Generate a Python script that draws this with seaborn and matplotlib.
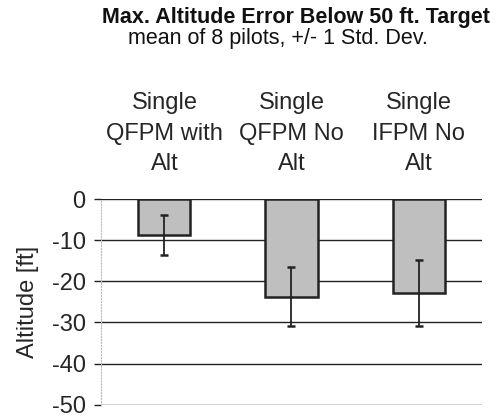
import matplotlib
matplotlib.use("Agg")
import matplotlib.pyplot as plt
import seaborn as sns
import pandas as pd

categories = ["Single\nQFPM with\nAlt", "Single\nQFPM No\nAlt", "Single\nIFPM No\nAlt"]
means = [-8.8, -23.7, -22.9]
std_devs = [4.8, 7.1, 8.0]
y_ticks = [0, -10, -20, -30, -40, -50]

sns.set_theme(style="white")
plt.rcParams['font.family'] = ['Liberation Sans', 'DejaVu Sans']

df = pd.DataFrame({"condition": categories, "altitude": means})

fig = plt.figure(figsize=(4.97, 4.19), dpi=100)
ax = fig.add_axes([0.203, 0.034, 0.767, 0.491])

sns.barplot(data=df, x="condition", y="altitude", ax=ax, color="#bfbfbf",
            edgecolor="#222222", linewidth=1.8, width=0.41, errorbar=None,
            saturation=1, zorder=3)
ax.errorbar(range(len(means)), means, yerr=std_devs, fmt="none",
            ecolor="#222222", elinewidth=1.3, capsize=3, capthick=1.8, zorder=4)

ax.set_xlim(-0.5, len(categories) - 0.5)
ax.set_ylim(-50, 0)
ax.set_yticks(y_ticks)
ax.set_yticklabels([str(v) for v in y_ticks])
ax.yaxis.grid(True, color="#222222", linewidth=1.0, zorder=0)
ax.set_axisbelow(True)
ax.xaxis.tick_top()
ax.tick_params(axis="x", length=0, labelsize=17, pad=17)
ax.tick_params(axis="y", length=5, width=1.0, color="#222222", labelsize=17, pad=6, left=True)
for lbl in ax.get_xticklabels():
    lbl.set_linespacing(1.5)
ax.set_xlabel("")
ax.set_ylabel("Altitude [ft]", fontsize=17)
ax.yaxis.set_label_coords(-0.162, 0.5)

for s in ["top", "right", "bottom"]:
    ax.spines[s].set_visible(False)
ax.spines["left"].set_color("#bbbbbb")
ax.spines["left"].set_linestyle(":")
ax.spines["left"].set_linewidth(0.8)

fig.text(0.595, 0.958, "Max. Altitude Error Below 50 ft. Target", ha="center",
         va="center", fontsize=15.5, fontweight="bold", color="#111111")
fig.text(0.56, 0.907, "mean of 8 pilots, +/- 1 Std. Dev.", ha="center",
         va="center", fontsize=15.5, color="#111111")

fig.savefig("out.png", dpi=100)
